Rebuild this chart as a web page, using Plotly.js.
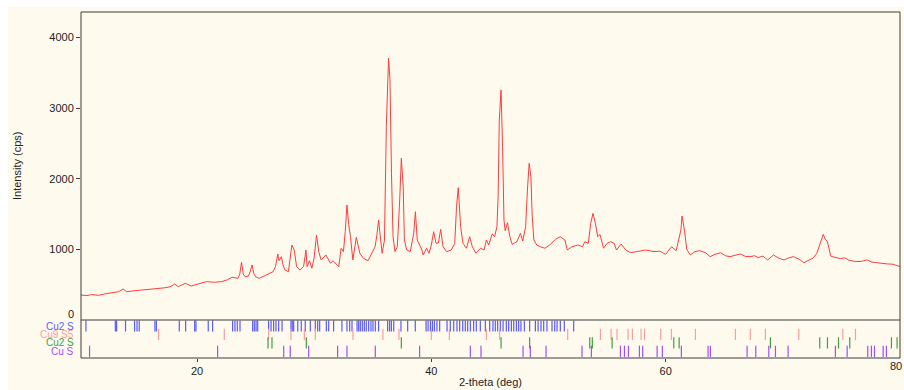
<!DOCTYPE html>
<html>
<head>
<meta charset="utf-8">
<script src="https://cdn.plot.ly/plotly-3.0.1.min.js"></script>
<style>
  html, body { margin: 0; padding: 0; background: #ffffff; }
  #chart { position: absolute; left: 8px; top: 7px; width: 896px; height: 383px; }
</style>
</head>
<body>
<div id="chart"></div>
<script>
// ---- Measured XRD pattern ----
const twoTheta = [
  10.1,10.6,11.0,11.6,12.2,12.7,13.3,13.7,14.0,14.5,15.0,15.6,16.2,16.7,17.2,17.7,18.1,18.4,19.0,19.5,
  20.1,20.8,21.5,22.1,22.6,23.0,23.5,23.65,23.8,23.95,24.1,24.4,24.55,24.7,24.85,25.0,25.3,25.7,26.1,26.5,
  26.7,26.9,27.0,27.2,27.35,27.5,27.8,27.95,28.1,28.3,28.5,28.8,29.1,29.3,29.4,29.6,29.8,30.0,30.2,30.4,
  30.6,31.0,31.4,31.6,32.1,32.3,32.5,32.65,32.8,32.95,33.1,33.3,33.6,33.9,34.2,34.6,34.9,35.2,35.35,35.5,
  35.6,35.8,36.0,36.16,36.35,36.47,36.6,36.73,36.9,37.1,37.3,37.44,37.6,37.7,37.9,38.2,38.5,38.64,38.8,39.2,
  39.3,39.6,39.8,40.0,40.2,40.4,40.6,40.8,41.0,41.3,41.7,42.0,42.15,42.3,42.5,42.7,43.0,43.27,43.5,43.8,
  44.2,44.5,44.7,44.9,45.2,45.4,45.6,45.7,45.8,45.95,46.08,46.2,46.3,46.5,46.7,46.9,47.3,47.6,47.8,48.05,
  48.2,48.35,48.5,48.6,48.75,49.0,49.3,49.7,50.1,50.6,51.0,51.4,51.6,52.0,52.5,52.9,53.1,53.4,53.6,53.8,
  54.0,54.2,54.4,54.7,55.0,55.3,55.6,55.8,56.2,56.6,57.0,57.5,58.3,59.0,59.5,60.0,60.5,60.9,61.3,61.4,
  61.6,61.8,62.1,62.5,62.9,63.4,63.8,64.2,64.7,65.1,65.5,66.0,66.4,66.8,67.2,67.6,67.9,68.3,68.7,69.2,
  69.6,70.1,70.5,70.9,71.4,71.8,72.3,72.6,72.9,73.2,73.45,73.6,73.8,74.1,74.5,74.9,75.3,75.6,76.2,76.7,
  77.2,77.6,78.0,78.5,78.9,79.4,80.0
];
const intensity = [
  354,345,360,350,372,387,400,439,400,412,420,425,440,449,455,470,510,472,520,481,
  510,543,535,543,570,605,590,650,817,650,613,622,690,779,660,613,590,620,661,684,
  760,935,840,897,780,708,684,860,1062,991,755,708,760,991,755,840,732,880,1204,960,
  850,921,803,840,755,1016,968,1250,1629,1350,1180,850,1171,945,874,840,945,1038,1200,1416,
  1251,945,1133,2738,3707,3400,2078,1180,968,1038,1700,2290,1888,1133,991,968,1228,1534,1133,991,
  921,1016,945,1062,1251,1086,1090,1284,1038,968,991,1086,1605,1874,1322,1086,1016,1180,1038,945,
  1016,991,1133,1062,1220,1180,1322,1747,2833,3258,2455,1416,1265,1378,1180,1072,1109,1228,1119,1322,
  1841,2219,2030,1511,1133,1062,1038,1016,1062,1143,1180,1133,991,1038,1062,1038,1109,1086,1369,1511,
  1369,1180,1210,1016,1086,1109,1086,991,1076,991,953,968,991,968,975,930,1038,982,1274,1473,
  1274,1001,921,968,982,953,897,930,953,910,897,920,935,900,897,910,883,905,850,921,
  880,850,880,897,860,812,860,880,945,1086,1213,1150,1109,903,890,870,880,850,827,830,
  850,820,812,800,794,790,756
];

// ---- Reference phase line positions (2-theta) ----
const phaseLabels = ["Cu2 S", "Cu9 S5", "Cu2 S", "Cu S"];
const phaseColors = ["#5a5aff", "#ff9c9c", "#3f9f3f", "#a24dff"];
const cu2sA = [
  10.52,13.03,13.14,13.9,14.67,14.88,15.07,16.41,16.53,18.49,19.03,19.8,19.91,20.96,21.33,
  23.04,23.24,23.44,23.67,24.75,24.89,25.04,25.18,26.11,26.32,26.54,26.74,26.97,27.26,
  28.02,28.13,28.25,28.6,28.9,29.24,29.67,30.10,30.30,30.47,31.04,31.24,31.66,32.37,32.80,33.03,
  33.23,33.66,33.80,33.94,34.11,34.28,34.45,34.65,34.85,35.02,35.22,35.50,36.27,36.44,36.59,
  36.79,37.41,37.98,38.63,39.55,39.72,39.92,40.09,40.26,40.48,40.71,41.34,41.62,41.91,42.19,
  42.42,42.68,42.90,43.10,43.33,43.61,43.84,44.18,44.61,44.98,45.26,45.46,45.66,45.89,46.12,
  46.40,46.60,46.83,47.03,47.26,47.45,47.65,47.94,48.39,48.88,49.11,49.36,49.59,49.87,50.30,
  50.53,50.73,51.01,51.35,52.15
];
const cu9s5 = [
  16.72,22.33,26.11,28.02,29.16,30.10,33.31,35.87,37.24,40.00,41.54,44.70,45.83,51.64,
  54.43,55.34,55.85,56.79,57.16,57.90,58.19,59.58,60.49,62.54,65.95,67.23,68.51,71.36,75.12,76.20
];
const cu2sB = [
  26.06,26.40,29.33,37.44,45.95,48.39,53.52,53.74,55.43,60.69,61.15,68.94,73.15,73.81,74.75,
  75.71,79.27,79.75
];
const cus = [
  10.83,21.76,27.40,27.96,29.53,32.00,32.80,35.22,39.00,43.33,44.24,47.83,48.45,49.79,52.86,
  53.66,56.14,56.48,56.82,57.76,58.04,59.27,59.72,61.34,63.62,63.82,66.95,67.69,68.80,69.37,
  70.45,74.49,75.49,77.25,77.56,77.82,78.56,78.84
];
const phases = [cu2sA, cu9s5, cu2sB, cus];

const xTicks = [20, 40, 60, 80];
const yTicks = [1000, 2000, 3000, 4000];

const cream = "#fffaee";
const axisCol = "#3c3c3c";
const fontFam = "Liberation Sans, Arial, sans-serif";
const split = 38 / 346;

const traces = [{
  x: twoTheta, y: intensity, type: "scatter", mode: "lines",
  line: { color: "#ff3c3c", width: 1 }, xaxis: "x", yaxis: "y", hoverinfo: "skip"
}];
phases.forEach((arr, i) => {
  traces.push({
    x: arr, y: arr.map(() => i + 0.5), type: "scatter", mode: "markers",
    xaxis: "x", yaxis: "y2", hoverinfo: "skip",
    marker: { symbol: "line-ns", size: 8, color: phaseColors[i],
              line: { color: phaseColors[i], width: 1.2 } }
  });
});

const annotations = phaseLabels.map((t, i) => ({
  text: t, xref: "paper", x: 0, xshift: -5, xanchor: "right",
  yref: "y2", y: i + 0.5, yanchor: "middle", showarrow: false,
  font: { family: fontFam, size: 10, color: phaseColors[i] }
}));
annotations.push({
  text: "0", xref: "paper", x: 0, xshift: -5, xanchor: "right",
  yref: "y", y: 0, yshift: 6, yanchor: "middle", showarrow: false,
  font: { family: fontFam, size: 11, color: "#222" }
});
annotations.push({
  text: String(xTicks[xTicks.length - 1]), xref: "x", x: xTicks[xTicks.length - 1],
  xanchor: "right", xshift: 4, yref: "paper", y: -8 / 346, yanchor: "middle", showarrow: false,
  font: { family: fontFam, size: 11, color: "#222" }
});
annotations.push({
  text: "Intensity (cps)", xref: "paper", x: (9 - 73) / 819, xanchor: "center",
  yref: "paper", y: (1 + split) / 2, yanchor: "middle", textangle: -90, showarrow: false,
  font: { family: fontFam, size: 11, color: "#222" }
});
annotations.push({
  text: "2-theta (deg)", xref: "paper", x: 0.5, xanchor: "center",
  yref: "paper", y: -24 / 346, yanchor: "middle", showarrow: false,
  font: { family: fontFam, size: 11, color: "#222" }
});

const layout = {
  width: 896, height: 383,
  margin: { l: 73, r: 4, t: 5, b: 32 },
  paper_bgcolor: cream, plot_bgcolor: cream,
  showlegend: false,
  font: { family: fontFam, size: 11, color: "#222" },
  xaxis: {
    range: [10.1, 80], anchor: "y2", tickvals: xTicks.slice(0, -1), ticks: "outside", ticklen: 3,
    tickcolor: axisCol, showgrid: false, zeroline: false, showline: false,
    tickfont: { family: fontFam, size: 11, color: "#222" }
  },
  yaxis: {
    domain: [split, 1], range: [0, 4362], anchor: "x", tickvals: yTicks,
    ticks: "outside", ticklen: 4, tickcolor: axisCol, showgrid: false, zeroline: false,
    showline: false, tickfont: { family: fontFam, size: 11, color: "#222" }
  },
  yaxis2: {
    domain: [0, split], range: [4.29, -0.21], anchor: "x",
    showticklabels: false, ticks: "", showgrid: false, zeroline: false, showline: false
  },
  shapes: [
    { type: "rect", xref: "paper", yref: "paper", x0: 0, x1: 1, y0: 0, y1: 1,
      line: { color: axisCol, width: 1 }, layer: "above" },
    { type: "line", xref: "paper", yref: "paper", x0: 0, x1: 1, y0: split, y1: split,
      line: { color: axisCol, width: 1 }, layer: "above" }
  ],
  annotations: annotations
};

Plotly.newPlot("chart", traces, layout, { staticPlot: true, displayModeBar: false });
</script>
</body>
</html>
